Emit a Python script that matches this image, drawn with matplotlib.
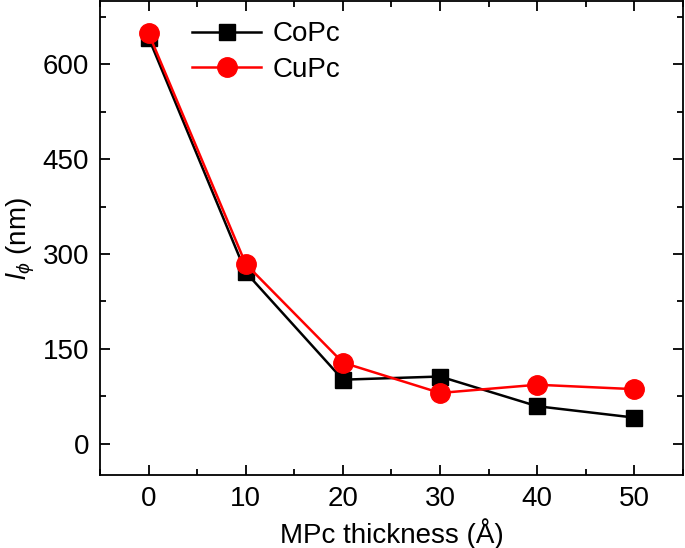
import numpy as np
import matplotlib.pyplot as plt
from matplotlib.ticker import MultipleLocator

plt.rcParams['font.family'] = ['Liberation Sans', 'DejaVu Sans']
plt.rcParams['mathtext.fontset'] = 'custom'
plt.rcParams['mathtext.rm'] = 'Liberation Sans'
plt.rcParams['mathtext.it'] = 'Liberation Sans:italic'

# 데이터
thickness = [0, 10, 20, 30, 40, 50]
copc = [642, 271, 101, 106, 59, 41]
cupc = [649, 284, 128, 80, 93, 86]

fig = plt.figure(figsize=(6.85, 5.48), dpi=100)
ax = fig.add_axes([0.146, 0.133, 0.851, 0.865])

ax.plot(thickness, copc, color='black', marker='s', markersize=12, linewidth=1.8, label='CoPc')
ax.plot(thickness, cupc, color='red', marker='o', markersize=14, linewidth=1.8, label='CuPc')

ax.set_xlim(-5, 55)
ax.set_ylim(-50, 700)
ax.xaxis.set_major_locator(MultipleLocator(10))
ax.xaxis.set_minor_locator(MultipleLocator(5))
ax.yaxis.set_major_locator(MultipleLocator(150))
ax.yaxis.set_minor_locator(MultipleLocator(75))
ax.tick_params(which='both', direction='in', top=True, right=True, labelsize=20, width=1.3)
ax.tick_params(which='major', length=7, pad=8)
ax.tick_params(which='minor', length=4)
for s in ax.spines.values():
    s.set_linewidth(1.3)

ax.set_xlabel('MPc thickness (Å)', fontsize=20, labelpad=4)
ax.set_ylabel(r'$l_{\phi}$ (nm)', fontsize=20, labelpad=4)

ax.legend(loc='upper left', bbox_to_anchor=(0.115, 1.01), frameon=False, fontsize=20,
          handlelength=2.5, labelspacing=0.35, handletextpad=0.4)

fig.savefig('out.png', dpi=100)
